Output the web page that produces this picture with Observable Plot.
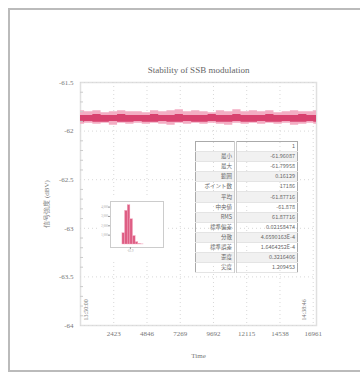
<!DOCTYPE html>
<html><head><meta charset="utf-8">
<script src="https://cdn.jsdelivr.net/npm/d3@7"></script>
<script src="https://cdn.jsdelivr.net/npm/@observablehq/plot@0.6"></script>
<style>
body{margin:0;background:#fff;}
#wrap{position:relative;width:360px;height:376px;overflow:hidden;font-family:"Liberation Serif",serif;}
#border{position:absolute;left:8px;top:8px;width:370px;height:364px;border:2px solid #bbb;box-sizing:border-box;}
#main{position:absolute;left:0;top:0;}
#inset{position:absolute;left:100px;top:195px;}
#stats{position:absolute;left:195px;top:141px;width:103px;border-collapse:collapse;border:1.5px solid #aaa;font-family:"Noto Sans CJK JP","Noto Sans",sans-serif;font-size:5.5px;color:#666;table-layout:fixed;}
#stats td{height:9.1px;padding:0 2px;text-align:right;line-height:9px;white-space:nowrap;overflow:hidden;border-bottom:0.5px solid #e4e4e4;}
#stats td.k{width:34px;border-right:3px double #ccc;}
#stats tr:nth-child(even) td{background:#f1f1f1;}
</style></head>
<body><div id="wrap"><div id="border"></div><div id="main"></div><div id="inset"></div><table id="stats"></table></div>
<script>
const title = "Stability of SSB modulation";
const xLabel = "Time";
const yLabel = "信号強度 (dBV)";
const startStamp = "13:50:00";
const endStamp = "14:38:46";
const xTicks = [2423, 4846, 7269, 9692, 12115, 14538, 16961];
const yTicks = [-61.5, -62, -62.5, -63, -63.5, -64];
const yMinor = [-61.6,-61.7,-61.8,-61.9,-62.1,-62.2,-62.3,-62.4,-62.6,-62.7,-62.8,-62.9,-63.1,-63.2,-63.3,-63.4,-63.6,-63.7,-63.8,-63.9];

// band envelope of the signal (dBV) over time
const time = [0,600,1200,1800,2400,3000,3600,4200,4800,5400,6000,6600,7200,7800,8400,9000,9600,10200,10800,11400,12000,12600,13200,13800,14400,15000,15600,16200,16800,17200];
const outerHi = [-61.79,-61.80,-61.79,-61.81,-61.80,-61.79,-61.80,-61.80,-61.81,-61.79,-61.80,-61.79,-61.78,-61.80,-61.79,-61.80,-61.81,-61.79,-61.80,-61.78,-61.80,-61.79,-61.80,-61.79,-61.81,-61.80,-61.79,-61.80,-61.80,-61.79];
const outerLo = [-61.93,-61.92,-61.93,-61.92,-61.94,-61.92,-61.93,-61.92,-61.93,-61.92,-61.93,-61.94,-61.92,-61.93,-61.92,-61.93,-61.92,-61.93,-61.94,-61.92,-61.93,-61.92,-61.93,-61.92,-61.93,-61.92,-61.94,-61.93,-61.92,-61.93];
const coreHi = [-61.84,-61.84,-61.83,-61.84,-61.84,-61.83,-61.84,-61.84,-61.84,-61.83,-61.84,-61.84,-61.83,-61.84,-61.84,-61.84,-61.83,-61.84,-61.84,-61.83,-61.84,-61.84,-61.84,-61.83,-61.84,-61.84,-61.84,-61.83,-61.84,-61.84];
const coreLo = [-61.91,-61.90,-61.91,-61.91,-61.90,-61.91,-61.91,-61.90,-61.91,-61.91,-61.90,-61.91,-61.91,-61.90,-61.91,-61.91,-61.90,-61.91,-61.91,-61.90,-61.91,-61.91,-61.90,-61.91,-61.91,-61.90,-61.91,-61.91,-61.90,-61.91];

// inset histogram
const binLo = [-61.96,-61.94,-61.92,-61.90,-61.88,-61.86,-61.84,-61.82];
const binHi = [-61.94,-61.92,-61.90,-61.88,-61.86,-61.84,-61.82,-61.80];
const binCount = [1200,3600,4200,2700,900,250,60,15];

// statistics table
const statKeys = ["","最小","最大","範囲","ポイント数","平均","中央値","RMS","標準偏差","分散","標準誤差","歪度","尖度"];
const statVals = ["1","-61.96087","-61.79958","0.16129","17186","-61.87716","-61.878","61.87716","0.02158474","4.6590163E-4","1.6464252E-4","0.3216406","1.209453"];

const band = time.map((t,i)=>({t, hi:outerHi[i], lo:outerLo[i], chi:coreHi[i], clo:coreLo[i]}));
const hist = binLo.map((b,i)=>({x1:b, x2:binHi[i], n:binCount[i]}));

const main = Plot.plot({
  width:360, height:376,
  marginLeft:80, marginRight:44, marginTop:82, marginBottom:51,
  style:{fontFamily:"Liberation Serif, serif", fontSize:"7px", color:"#777", background:"transparent"},
  x:{domain:[0,17200]},
  y:{domain:[-64,-61.5]},
  marks:[
    Plot.frame({stroke:"#e0e0e0", strokeWidth:1.5}),
    Plot.gridX(xTicks,{stroke:"#d8d8d8", strokeOpacity:1, strokeDasharray:"1,3"}),
    Plot.gridY(yTicks,{stroke:"#d8d8d8", strokeOpacity:1, strokeDasharray:"1,3"}),
    Plot.areaY(band,{x:"t", y1:"lo", y2:"hi", fill:"#f3adc3", curve:"step"}),
    Plot.areaY(band,{x:"t", y1:"clo", y2:"chi", fill:"#d8426f", curve:"step"}),
    Plot.axisX({ticks:xTicks, tickSize:0, tickPadding:6, tickFormat:d=>String(d), label:xLabel, labelAnchor:"center", labelArrow:"none", labelOffset:32, fill:"#777"}),
    Plot.axisY({ticks:yTicks, tickSize:0, tickPadding:7, tickFormat:d=>String(d), label:yLabel, labelAnchor:"center", labelArrow:"none", labelOffset:36, fill:"#777"}),
    Plot.axisY(yMinor,{tickSize:-3, tickFormat:()=>"", stroke:"#ccc", label:null}),
    Plot.text([title],{text:d=>d, frameAnchor:"top", dy:-16, fontSize:9, fill:"#666"}),
    Plot.text([startStamp],{text:d=>d, frameAnchor:"bottom-left", rotate:-90, textAnchor:"start", dx:7, dy:-5, fontSize:6, fill:"#777"}),
    Plot.text([endStamp],{text:d=>d, frameAnchor:"bottom-right", rotate:-90, textAnchor:"start", dx:-11, dy:-5, fontSize:6, fill:"#777"})
  ]
});
document.getElementById("main").append(main);

const inset = Plot.plot({
  width:66, height:65, marginLeft:10, marginRight:3, marginTop:6, marginBottom:13,
  style:{fontFamily:"Liberation Serif, serif", fontSize:"3px", color:"#999", background:"#fff"},
  x:{domain:[-62.05,-61.65]},
  y:{domain:[0,4600], insetBottom:3},
  marks:[
    Plot.frame({stroke:"#ccc", strokeWidth:1}),
    Plot.rectY(hist,{x1:"x1", x2:"x2", y:"n", fill:"#d8426f", fillOpacity:0.85, stroke:"#f3adc3", strokeWidth:0.4}),
    Plot.axisY({ticks:[1000,2000,3000,4000], tickSize:2, tickPadding:0.5, label:null, fill:"#aaa"}),
    Plot.axisX({ticks:[-61.9], tickSize:2, tickPadding:0.5, tickFormat:d=>String(d), label:null, fill:"#aaa"})
  ]
});
document.getElementById("inset").append(inset);

const tbl = document.getElementById("stats");
statKeys.forEach((k,i)=>{
  const tr = document.createElement("tr");
  const a = document.createElement("td"); a.className="k"; a.textContent=k;
  const b = document.createElement("td"); b.textContent=statVals[i];
  tr.append(a,b); tbl.append(tr);
});
</script></body></html>
